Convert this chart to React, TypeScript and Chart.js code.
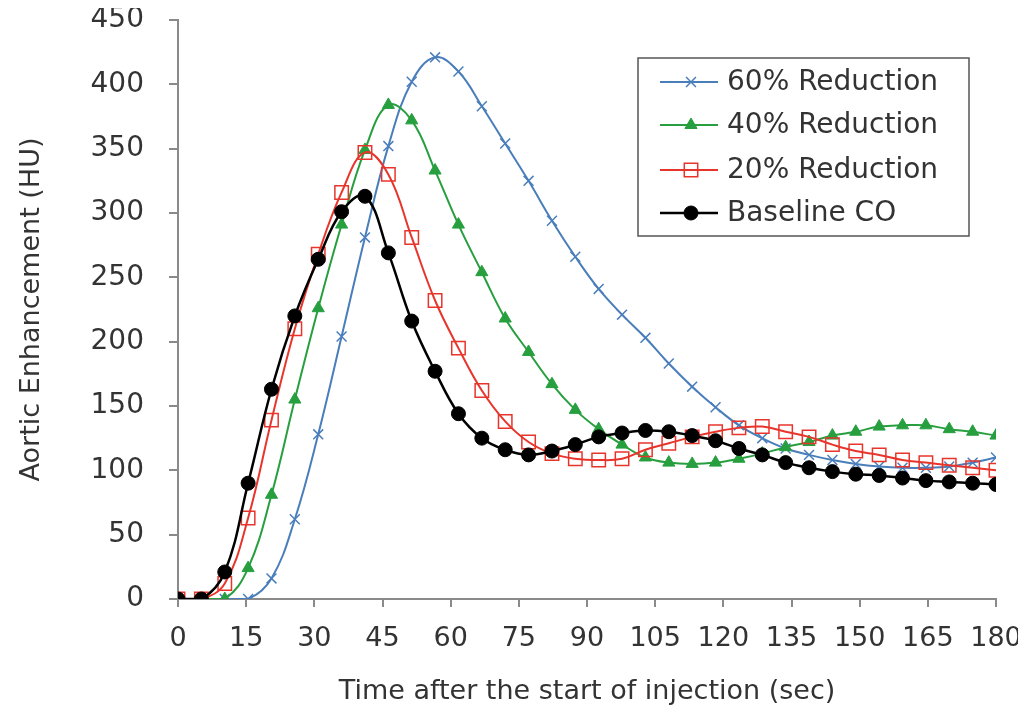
import React, { useEffect, useRef } from "react";
import { Chart, registerables } from "chart.js";

Chart.register(...registerables);

const timesSec = [0, 5.14, 10.29, 15.43, 20.57, 25.71, 30.86, 36, 41.14, 46.29, 51.43, 56.57, 61.71, 66.86, 72, 77.14, 82.29, 87.43, 92.57, 97.71, 102.86, 108, 113.14, 118.29, 123.43, 128.57, 133.71, 138.86, 144, 149.14, 154.29, 159.43, 164.57, 169.71, 174.86, 180];

const reduction60 = [0, 0, 0, 0, 16, 62, 128, 204, 281, 352, 402, 421, 410, 383, 354, 325, 294, 266, 241, 221, 203, 183, 165, 149, 135, 125, 117, 112, 108, 105, 103, 102, 102, 103, 106, 110];
const reduction40 = [0, 0, 0, 24, 81, 155, 226, 291, 349, 384, 372, 333, 291, 254, 218, 192, 167, 147, 132, 120, 110, 106, 105, 106, 109, 113, 118, 122, 127, 130, 134, 135, 135, 132, 130, 127];
const reduction20 = [0, 0, 12, 63, 139, 210, 268, 316, 347, 330, 281, 232, 195, 162, 138, 122, 113, 109, 108, 109, 116, 121, 126, 130, 133, 134, 130, 126, 120, 115, 112, 108, 106, 104, 102, 100];
const baselineCO = [0, 0, 21, 90, 163, 220, 264, 301, 313, 269, 216, 177, 144, 125, 116, 112, 115, 120, 126, 129, 131, 130, 127, 123, 117, 112, 106, 102, 99, 97, 96, 94, 92, 91, 90, 89];

const seriesLabels = ["60% Reduction", "40% Reduction", "20% Reduction", "Baseline CO"];
const xTitle = "Time after the start of injection (sec)";
const yTitle = "Aortic Enhancement (HU)";

const FONT = "'DejaVu Sans', sans-serif";
const TEXT_COLOR = "#333333";
const AXIS_COLOR = "#8a8a8a";

function drawMarker(ctx: CanvasRenderingContext2D, style: string, x: number, y: number, r: number) {
  ctx.beginPath();
  if (style === "circle") {
    ctx.arc(x, y, r, 0, Math.PI * 2);
    ctx.fill();
    ctx.stroke();
  } else if (style === "triangle") {
    ctx.moveTo(x, y - r);
    ctx.lineTo(x + r * 0.866, y + r * 0.5);
    ctx.lineTo(x - r * 0.866, y + r * 0.5);
    ctx.closePath();
    ctx.fill();
    ctx.stroke();
  } else if (style === "rect") {
    const s = r * Math.SQRT1_2;
    ctx.rect(x - s, y - s, 2 * s, 2 * s);
    ctx.fill();
    ctx.stroke();
  } else if (style === "crossRot") {
    const s = r * Math.SQRT1_2;
    ctx.moveTo(x - s, y - s);
    ctx.lineTo(x + s, y + s);
    ctx.moveTo(x + s, y - s);
    ctx.lineTo(x - s, y + s);
    ctx.stroke();
  }
}

const legendPlugin = {
  id: "insideLegend",
  afterDraw(chart: any) {
    const ctx = chart.ctx as CanvasRenderingContext2D;
    const boxL = 630, boxT = 50, boxR = 961, boxB = 228;
    ctx.save();
    ctx.strokeStyle = "#555555";
    ctx.lineWidth = 1.5;
    ctx.strokeRect(boxL, boxT, boxR - boxL, boxB - boxT);
    const rows = [74, 117, 162, 205];
    chart.data.datasets.forEach((ds: any, i: number) => {
      const y = rows[i];
      ctx.strokeStyle = ds.borderColor;
      ctx.lineWidth = ds.borderWidth;
      ctx.beginPath();
      ctx.moveTo(652, y);
      ctx.lineTo(710, y);
      ctx.stroke();
      ctx.fillStyle = ds.pointBackgroundColor;
      ctx.strokeStyle = ds.pointBorderColor;
      ctx.lineWidth = ds.pointBorderWidth;
      drawMarker(ctx, ds.pointStyle, 683, y, ds.pointRadius);
      ctx.fillStyle = TEXT_COLOR;
      ctx.font = "28px " + FONT;
      ctx.textBaseline = "middle";
      ctx.textAlign = "left";
      ctx.fillText(ds.label, 719, y + 1);
    });
    ctx.restore();
  },
};

export default function App() {
  const canvasRef = useRef<HTMLCanvasElement | null>(null);

  useEffect(() => {
    const canvas = canvasRef.current;
    if (!canvas) return;
    const mk = (vals: number[]) => vals.map((v, i) => ({ x: timesSec[i], y: v }));
    const chart = new Chart(canvas, {
      type: "line",
      data: {
        datasets: [
          {
            label: seriesLabels[0],
            data: mk(reduction60),
            borderColor: "#4a7ebb",
            backgroundColor: "#4a7ebb",
            borderWidth: 2,
            pointStyle: "crossRot",
            pointRadius: 7,
            pointBorderWidth: 1.5,
            pointBorderColor: "#4a7ebb",
            pointBackgroundColor: "#4a7ebb",
            tension: 0.4,
            order: 3,
          },
          {
            label: seriesLabels[1],
            data: mk(reduction40),
            borderColor: "#279f3f",
            backgroundColor: "#279f3f",
            borderWidth: 2,
            pointStyle: "triangle",
            pointRadius: 7,
            pointBorderWidth: 1,
            pointBorderColor: "#279f3f",
            pointBackgroundColor: "#279f3f",
            tension: 0.4,
            order: 2,
          },
          {
            label: seriesLabels[2],
            data: mk(reduction20),
            borderColor: "#e8352c",
            backgroundColor: "rgba(255,255,255,0)",
            borderWidth: 2,
            pointStyle: "rect",
            pointRadius: 9.5,
            pointBorderWidth: 1.5,
            pointBorderColor: "#e8352c",
            pointBackgroundColor: "rgba(255,255,255,0)",
            tension: 0.4,
            order: 1,
          },
          {
            label: seriesLabels[3],
            data: mk(baselineCO),
            borderColor: "#000000",
            backgroundColor: "#000000",
            borderWidth: 2.5,
            pointStyle: "circle",
            pointRadius: 7,
            pointBorderWidth: 1,
            pointBorderColor: "#000000",
            pointBackgroundColor: "#000000",
            tension: 0.4,
            order: 0,
          },
        ],
      },
      options: {
        responsive: false,
        animation: false,
        layout: { padding: { left: 0, top: 12, right: 22, bottom: 0 } },
        plugins: {
          legend: { display: false },
          tooltip: { enabled: false },
        },
        scales: {
          x: {
            type: "linear",
            min: 0,
            max: 180,
            ticks: {
              stepSize: 15,
              color: TEXT_COLOR,
              font: { family: FONT, size: 27 },
              padding: 16,
              maxRotation: 0,
              autoSkip: false,
            },
            grid: {
              display: true,
              drawOnChartArea: false,
              drawTicks: true,
              tickLength: 8,
              color: AXIS_COLOR,
              lineWidth: 2,
            },
            border: { display: true, color: AXIS_COLOR, width: 2 },
            title: {
              display: true,
              text: xTitle,
              color: TEXT_COLOR,
              font: { family: FONT, size: 27 },
              padding: { top: 0, bottom: 8 },
            },
            afterFit(scale: any) {
              scale.height = 117;
              scale.paddingLeft = 0;
              scale.paddingRight = 0;
            },
          },
          y: {
            type: "linear",
            min: 0,
            max: 450,
            ticks: {
              stepSize: 50,
              color: TEXT_COLOR,
              font: { family: FONT, size: 28 },
              padding: 25,
            },
            grid: {
              display: true,
              drawOnChartArea: false,
              drawTicks: true,
              tickLength: 9,
              color: AXIS_COLOR,
              lineWidth: 2,
            },
            border: { display: true, color: AXIS_COLOR, width: 2 },
            title: {
              display: true,
              text: yTitle,
              color: TEXT_COLOR,
              font: { family: FONT, size: 27 },
              padding: { top: 8, bottom: 0 },
            },
            afterFit(scale: any) {
              scale.width = 170;
              scale.paddingTop = 0;
              scale.paddingBottom = 0;
            },
          },
        },
      },
      plugins: [legendPlugin],
    });
    return () => chart.destroy();
  }, []);

  return (
    <div style={{ width: 1010, height: 708 }}>
      <canvas ref={canvasRef} width={1010} height={708} style={{ display: "block" }} />
    </div>
  );
}
